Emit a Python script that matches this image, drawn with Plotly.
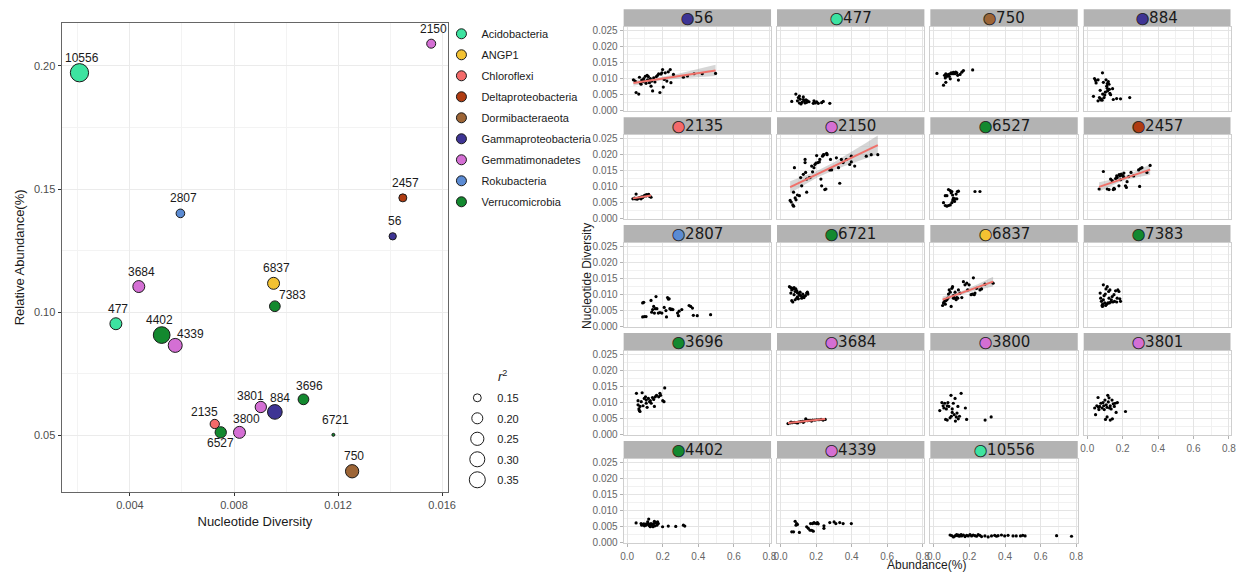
import numpy as np
import plotly.graph_objects as go

# ---------------- main scatter data ----------------
genomes = ["10556", "2150", "2807", "2457", "56", "3684", "6837", "7383", "477", "4402",
           "4339", "3696", "3801", "884", "2135", "6527", "3800", "6721", "750"]
genome_phylum = ["Acidobacteria", "Gemmatimonadetes", "Rokubacteria", "Deltaproteobacteria",
                 "Gammaproteobacteria", "Gemmatimonadetes", "ANGP1", "Verrucomicrobia",
                 "Acidobacteria", "Verrucomicrobia", "Gemmatimonadetes", "Verrucomicrobia",
                 "Gemmatimonadetes", "Gammaproteobacteria", "Chloroflexi", "Verrucomicrobia",
                 "Gemmatimonadetes", "Verrucomicrobia", "Dormibacteraeota"]
nucleotide_diversity = [0.00206, 0.01558, 0.00594, 0.01449, 0.01410, 0.00434, 0.00952, 0.00957,
                        0.00346, 0.00522, 0.00574, 0.01067, 0.00903, 0.00957, 0.00726, 0.00749,
                        0.00821, 0.01182, 0.01254]
relative_abundance = [0.1972, 0.2090, 0.1401, 0.1464, 0.1308, 0.1104, 0.1117, 0.1024, 0.0953,
                      0.0907, 0.0865, 0.0646, 0.0615, 0.0595, 0.0546, 0.0512, 0.0512, 0.0502, 0.0354]
r_squared = [0.41, 0.165, 0.16, 0.151, 0.143, 0.22, 0.22, 0.194, 0.22, 0.354,
             0.27, 0.194, 0.206, 0.29, 0.169, 0.206, 0.22, 0.12, 0.252]

phylum_names = ["Acidobacteria", "ANGP1", "Chloroflexi", "Deltaproteobacteria", "Dormibacteraeota",
                "Gammaproteobacteria", "Gemmatimonadetes", "Rokubacteria", "Verrucomicrobia"]
size_legend_values = [0.15, 0.20, 0.25, 0.30, 0.35]

# ---------------- facet data (abundance %, nucleotide diversity) ----------------
ab_56 = [0.035, 0.045, 0.050, 0.065, 0.069, 0.073, 0.078, 0.082, 0.087, 0.093, 0.097, 0.102, 0.106, 0.112, 0.115,
         0.119, 0.125, 0.130, 0.134, 0.138, 0.143, 0.149, 0.156, 0.164, 0.171, 0.177, 0.184, 0.190, 0.195, 0.199,
         0.203, 0.208, 0.214, 0.223, 0.231, 0.242, 0.246, 0.260, 0.316, 0.339, 0.376, 0.422, 0.497]
nd_56 = [0.0096, 0.0092, 0.0056, 0.0051, 0.0104, 0.0087, 0.0082, 0.0095, 0.0090, 0.0100, 0.0092, 0.0107, 0.0085,
         0.0110, 0.0096, 0.0106, 0.0087, 0.0100, 0.0076, 0.0092, 0.0061, 0.0102, 0.0089, 0.0106, 0.0110, 0.0115,
         0.0056, 0.0114, 0.0118, 0.0128, 0.0073, 0.0097, 0.0118, 0.0092, 0.0121, 0.0128, 0.0087, 0.0113, 0.0104,
         0.0108, 0.0115, 0.0115, 0.0116]

ab_477 = [0.063, 0.086, 0.095, 0.100, 0.106, 0.110, 0.115, 0.121, 0.128, 0.134, 0.138, 0.143, 0.147, 0.151, 0.160,
          0.184, 0.188, 0.195, 0.203, 0.212, 0.231, 0.240, 0.277, 0.106, 0.128]
nd_477 = [0.0028, 0.0051, 0.0030, 0.0040, 0.0023, 0.0035, 0.0020, 0.0025, 0.0042, 0.0030, 0.0023, 0.0033, 0.0025,
          0.0030, 0.0027, 0.0022, 0.0030, 0.0023, 0.0027, 0.0022, 0.0024, 0.0028, 0.0022, 0.0045, 0.0034]

ab_750 = [0.017, 0.060, 0.064, 0.067, 0.073, 0.078, 0.082, 0.086, 0.092, 0.097, 0.101, 0.105, 0.110, 0.116, 0.119,
          0.123, 0.129, 0.134, 0.138, 0.147, 0.157, 0.166, 0.218, 0.054, 0.067, 0.092, 0.110]
nd_750 = [0.0116, 0.0110, 0.0102, 0.0115, 0.0107, 0.0110, 0.0113, 0.0107, 0.0115, 0.0118, 0.0115, 0.0117, 0.0119,
          0.0118, 0.0115, 0.0120, 0.0118, 0.0110, 0.0095, 0.0113, 0.0120, 0.0125, 0.0127, 0.0079, 0.0088, 0.0099,
          0.0115]

ab_884 = [0.035, 0.041, 0.047, 0.050, 0.061, 0.069, 0.073, 0.076, 0.080, 0.084, 0.086, 0.087, 0.091, 0.095, 0.099,
          0.102, 0.106, 0.110, 0.113, 0.113, 0.115, 0.119, 0.123, 0.125, 0.128, 0.132, 0.143, 0.147, 0.166, 0.188,
          0.240, 0.061]
nd_884 = [0.0044, 0.0100, 0.0094, 0.0086, 0.0096, 0.0040, 0.0063, 0.0033, 0.0035, 0.0032, 0.0118, 0.0051, 0.0088,
          0.0040, 0.0048, 0.0057, 0.0096, 0.0076, 0.0084, 0.0069, 0.0061, 0.0090, 0.0082, 0.0066, 0.0053, 0.0049,
          0.0068, 0.0034, 0.0037, 0.0036, 0.0040, 0.0030]

ab_2135 = [0.032, 0.041, 0.050, 0.056, 0.063, 0.069, 0.074, 0.082, 0.087, 0.093, 0.097, 0.102, 0.106, 0.110, 0.115,
           0.121, 0.125, 0.130, 0.134, 0.045, 0.078]
nd_2135 = [0.0061, 0.0063, 0.0076, 0.0060, 0.0063, 0.0064, 0.0066, 0.0067, 0.0065, 0.0069, 0.0071, 0.0073, 0.0070,
           0.0074, 0.0072, 0.0075, 0.0069, 0.0068, 0.0066, 0.0061, 0.0061]

ab_2150 = [0.054, 0.060, 0.069, 0.074, 0.082, 0.078, 0.087, 0.095, 0.106, 0.113, 0.119, 0.128, 0.138, 0.138, 0.141,
           0.147, 0.147, 0.162, 0.166, 0.175, 0.180, 0.188, 0.193, 0.199, 0.203, 0.210, 0.218, 0.221, 0.227, 0.231,
           0.236, 0.240, 0.249, 0.244, 0.255, 0.259, 0.262, 0.277, 0.281, 0.287, 0.314, 0.326, 0.333, 0.342, 0.352,
           0.370, 0.389, 0.398, 0.398, 0.417, 0.482, 0.510, 0.547, 0.073]
nd_2150 = [0.0056, 0.0051, 0.0042, 0.0038, 0.0064, 0.0159, 0.0058, 0.0073, 0.0071, 0.0128, 0.0102, 0.0138, 0.0185,
           0.0175, 0.0144, 0.0082, 0.0123, 0.0128, 0.0128, 0.0164, 0.0146, 0.0159, 0.0169, 0.0173, 0.0197, 0.0175,
           0.0177, 0.0185, 0.0123, 0.0102, 0.0195, 0.0199, 0.0090, 0.0200, 0.0092, 0.0204, 0.0200, 0.0152, 0.0185,
           0.0152, 0.0190, 0.0159, 0.0110, 0.0185, 0.0175, 0.0185, 0.0169, 0.0195, 0.0177, 0.0164, 0.0195, 0.0200,
           0.0200, 0.0082]

ab_6527 = [0.054, 0.064, 0.073, 0.082, 0.092, 0.101, 0.106, 0.110, 0.116, 0.119, 0.129, 0.132, 0.138, 0.125, 0.101,
           0.092, 0.082, 0.073, 0.064, 0.231, 0.259, 0.097, 0.105]
nd_6527 = [0.0049, 0.0040, 0.0038, 0.0040, 0.0042, 0.0049, 0.0057, 0.0063, 0.0053, 0.0061, 0.0061, 0.0084, 0.0085,
           0.0076, 0.0084, 0.0087, 0.0090, 0.0071, 0.0071, 0.0084, 0.0084, 0.0080, 0.0073]

ab_2457 = [0.067, 0.091, 0.113, 0.123, 0.132, 0.141, 0.147, 0.151, 0.154, 0.160, 0.166, 0.169, 0.179, 0.180, 0.184,
           0.188, 0.192, 0.197, 0.203, 0.207, 0.216, 0.221, 0.225, 0.247, 0.262, 0.290, 0.296, 0.300, 0.309, 0.337,
           0.355, 0.207, 0.234]
nd_2457 = [0.0092, 0.0147, 0.0092, 0.0090, 0.0123, 0.0118, 0.0090, 0.0094, 0.0092, 0.0125, 0.0133, 0.0128, 0.0102,
           0.0137, 0.0133, 0.0121, 0.0139, 0.0135, 0.0133, 0.0142, 0.0102, 0.0097, 0.0115, 0.0144, 0.0133, 0.0152,
           0.0100, 0.0156, 0.0159, 0.0144, 0.0166, 0.0128, 0.0131]

ab_2807 = [0.087, 0.093, 0.087, 0.097, 0.106, 0.134, 0.138, 0.149, 0.153, 0.158, 0.162, 0.167, 0.175, 0.184, 0.195,
           0.208, 0.218, 0.221, 0.227, 0.231, 0.236, 0.240, 0.246, 0.251, 0.257, 0.283, 0.288, 0.292, 0.307, 0.348,
           0.357, 0.367, 0.372, 0.394, 0.469, 0.143]
nd_2807 = [0.0073, 0.0075, 0.0029, 0.0030, 0.0030, 0.0081, 0.0044, 0.0062, 0.0041, 0.0055, 0.0093, 0.0055, 0.0041,
           0.0043, 0.0041, 0.0059, 0.0049, 0.0029, 0.0090, 0.0085, 0.0086, 0.0055, 0.0052, 0.0054, 0.0052, 0.0041,
           0.0033, 0.0047, 0.0052, 0.0065, 0.0062, 0.0057, 0.0034, 0.0033, 0.0036, 0.0052]

ab_6721 = [0.050, 0.058, 0.063, 0.069, 0.073, 0.076, 0.082, 0.086, 0.091, 0.095, 0.100, 0.106, 0.110, 0.113, 0.119,
           0.125, 0.128, 0.132, 0.140, 0.147, 0.151, 0.154, 0.063, 0.069, 0.082, 0.091, 0.095, 0.058, 0.076, 0.100]
nd_6721 = [0.0124, 0.0121, 0.0114, 0.0119, 0.0117, 0.0121, 0.0109, 0.0117, 0.0111, 0.0105, 0.0104, 0.0099, 0.0107,
           0.0096, 0.0088, 0.0101, 0.0093, 0.0090, 0.0096, 0.0104, 0.0107, 0.0101, 0.0080, 0.0076, 0.0083, 0.0088,
           0.0092, 0.0104, 0.0099, 0.0086]

ab_6837 = [0.049, 0.054, 0.060, 0.064, 0.073, 0.078, 0.082, 0.086, 0.092, 0.097, 0.101, 0.105, 0.110, 0.116, 0.119,
           0.125, 0.129, 0.134, 0.138, 0.147, 0.157, 0.166, 0.175, 0.185, 0.190, 0.198, 0.209, 0.216, 0.222, 0.227,
           0.231, 0.240, 0.259, 0.268, 0.287, 0.333, 0.067, 0.110]
nd_6837 = [0.0065, 0.0073, 0.0078, 0.0069, 0.0083, 0.0088, 0.0101, 0.0114, 0.0107, 0.0062, 0.0119, 0.0124, 0.0096,
           0.0088, 0.0107, 0.0083, 0.0090, 0.0088, 0.0114, 0.0104, 0.0090, 0.0140, 0.0130, 0.0135, 0.0114, 0.0130,
           0.0099, 0.0101, 0.0152, 0.0099, 0.0104, 0.0119, 0.0114, 0.0117, 0.0132, 0.0135, 0.0080, 0.0088]

ab_7383 = [0.073, 0.076, 0.080, 0.084, 0.087, 0.091, 0.091, 0.095, 0.099, 0.102, 0.106, 0.110, 0.113, 0.117, 0.121,
           0.123, 0.125, 0.128, 0.132, 0.136, 0.141, 0.145, 0.151, 0.154, 0.160, 0.166, 0.169, 0.173, 0.179, 0.184,
           0.188, 0.086, 0.104]
nd_7383 = [0.0104, 0.0088, 0.0078, 0.0065, 0.0069, 0.0130, 0.0083, 0.0096, 0.0073, 0.0101, 0.0117, 0.0069, 0.0124,
           0.0073, 0.0109, 0.0088, 0.0073, 0.0114, 0.0076, 0.0083, 0.0093, 0.0076, 0.0099, 0.0078, 0.0111, 0.0076,
           0.0088, 0.0114, 0.0109, 0.0086, 0.0078, 0.0062, 0.0065]

ab_3696 = [0.052, 0.061, 0.061, 0.066, 0.068, 0.072, 0.079, 0.084, 0.089, 0.096, 0.103, 0.107, 0.112, 0.119, 0.126,
           0.130, 0.135, 0.142, 0.149, 0.153, 0.158, 0.165, 0.177, 0.184, 0.188, 0.200, 0.207, 0.211, 0.072, 0.107]
nd_3696 = [0.0128, 0.0105, 0.0092, 0.0079, 0.0074, 0.0087, 0.0102, 0.0130, 0.0089, 0.0112, 0.0117, 0.0107, 0.0084,
           0.0112, 0.0102, 0.0105, 0.0097, 0.0115, 0.0109, 0.0087, 0.0117, 0.0122, 0.0117, 0.0128, 0.0122, 0.0105,
           0.0102, 0.0145, 0.0071, 0.0097]

ab_3684 = [0.042, 0.054, 0.066, 0.077, 0.089, 0.100, 0.112, 0.123, 0.135, 0.142, 0.151, 0.160, 0.170, 0.181, 0.193,
           0.204, 0.216, 0.228, 0.239, 0.251, 0.059, 0.096, 0.128, 0.174]
nd_3684 = [0.0033, 0.0035, 0.0036, 0.0037, 0.0036, 0.0038, 0.0039, 0.0040, 0.0041, 0.0048, 0.0042, 0.0043, 0.0043,
           0.0044, 0.0044, 0.0045, 0.0045, 0.0046, 0.0044, 0.0046, 0.0038, 0.0035, 0.0037, 0.0041]

ab_3800 = [0.033, 0.045, 0.052, 0.056, 0.061, 0.066, 0.070, 0.075, 0.079, 0.084, 0.091, 0.096, 0.098, 0.103, 0.109,
           0.114, 0.119, 0.121, 0.126, 0.130, 0.135, 0.137, 0.144, 0.153, 0.177, 0.184, 0.288, 0.322, 0.075, 0.103]
nd_3800 = [0.0074, 0.0099, 0.0089, 0.0082, 0.0097, 0.0046, 0.0079, 0.0089, 0.0099, 0.0087, 0.0051, 0.0122, 0.0056,
           0.0079, 0.0097, 0.0061, 0.0112, 0.0041, 0.0054, 0.0066, 0.0087, 0.0048, 0.0056, 0.0128, 0.0082, 0.0046,
           0.0044, 0.0054, 0.0044, 0.0068]

ab_3801 = [0.042, 0.047, 0.054, 0.061, 0.066, 0.070, 0.077, 0.084, 0.089, 0.093, 0.096, 0.100, 0.103, 0.107, 0.112,
           0.116, 0.119, 0.123, 0.126, 0.130, 0.135, 0.140, 0.142, 0.147, 0.153, 0.158, 0.163, 0.170, 0.216, 0.112,
           0.130, 0.064]
nd_3801 = [0.0082, 0.0061, 0.0089, 0.0115, 0.0077, 0.0087, 0.0097, 0.0082, 0.0099, 0.0089, 0.0077, 0.0107, 0.0046,
           0.0092, 0.0084, 0.0122, 0.0101, 0.0114, 0.0082, 0.0089, 0.0079, 0.0107, 0.0048, 0.0095, 0.0087, 0.0097,
           0.0068, 0.0099, 0.0071, 0.0054, 0.0044, 0.0084]

ab_4402 = [0.050, 0.078, 0.082, 0.087, 0.093, 0.097, 0.102, 0.106, 0.115, 0.119, 0.121, 0.125, 0.128, 0.130, 0.134,
           0.138, 0.143, 0.149, 0.153, 0.156, 0.162, 0.167, 0.171, 0.175, 0.199, 0.231, 0.273, 0.316, 0.324, 0.112,
           0.145]
nd_4402 = [0.0060, 0.0058, 0.0053, 0.0055, 0.0057, 0.0051, 0.0056, 0.0053, 0.0063, 0.0058, 0.0072, 0.0051, 0.0055,
           0.0048, 0.0058, 0.0053, 0.0055, 0.0058, 0.0065, 0.0051, 0.0061, 0.0053, 0.0063, 0.0058, 0.0048, 0.0050,
           0.0049, 0.0053, 0.0050, 0.0056, 0.0048]

ab_4339 = [0.063, 0.073, 0.082, 0.091, 0.095, 0.106, 0.147, 0.156, 0.166, 0.169, 0.175, 0.180, 0.188, 0.193, 0.203,
           0.207, 0.212, 0.244, 0.244, 0.277, 0.301, 0.311, 0.333, 0.352, 0.398, 0.087, 0.184]
nd_4339 = [0.0032, 0.0032, 0.0065, 0.0058, 0.0055, 0.0030, 0.0048, 0.0043, 0.0037, 0.0058, 0.0037, 0.0058, 0.0061,
           0.0059, 0.0058, 0.0061, 0.0057, 0.0051, 0.0043, 0.0061, 0.0063, 0.0058, 0.0061, 0.0058, 0.0058, 0.0053,
           0.0034]

ab_10556 = [0.091, 0.110, 0.119, 0.125, 0.128, 0.134, 0.138, 0.143, 0.147, 0.156, 0.166, 0.175, 0.184, 0.193, 0.203,
            0.212, 0.221, 0.231, 0.240, 0.249, 0.259, 0.268, 0.287, 0.305, 0.324, 0.342, 0.352, 0.361, 0.380, 0.398,
            0.417, 0.445, 0.463, 0.487, 0.500, 0.513, 0.690, 0.774, 0.100, 0.153]
nd_10556 = [0.0022, 0.0016, 0.0019, 0.0021, 0.0023, 0.0020, 0.0022, 0.0018, 0.0021, 0.0019, 0.0022, 0.0017, 0.0021,
            0.0019, 0.0023, 0.0019, 0.0022, 0.0020, 0.0018, 0.0023, 0.0021, 0.0017, 0.0019, 0.0016, 0.0019, 0.0021,
            0.0018, 0.0020, 0.0022, 0.0019, 0.0021, 0.0019, 0.0019, 0.0019, 0.0021, 0.0019, 0.0020, 0.0018, 0.0020,
            0.0023]

facet_order = ["56", "477", "750", "884", "2135", "2150", "6527", "2457", "2807", "6721",
               "6837", "7383", "3696", "3684", "3800", "3801", "4402", "4339", "10556"]
fitted_facets = ["56", "2135", "2150", "2457", "6837", "3684"]

facet_data = {
    "56": (ab_56, nd_56), "477": (ab_477, nd_477), "750": (ab_750, nd_750), "884": (ab_884, nd_884),
    "2135": (ab_2135, nd_2135), "2150": (ab_2150, nd_2150), "6527": (ab_6527, nd_6527),
    "2457": (ab_2457, nd_2457), "2807": (ab_2807, nd_2807), "6721": (ab_6721, nd_6721),
    "6837": (ab_6837, nd_6837), "7383": (ab_7383, nd_7383), "3696": (ab_3696, nd_3696),
    "3684": (ab_3684, nd_3684), "3800": (ab_3800, nd_3800), "3801": (ab_3801, nd_3801),
    "4402": (ab_4402, nd_4402), "4339": (ab_4339, nd_4339), "10556": (ab_10556, nd_10556),
}

# ---------------- styles ----------------
W, H = 1238, 575
phylum_colors = {
    "Acidobacteria": "#3DE3A0", "ANGP1": "#F3C232", "Chloroflexi": "#F46A6A",
    "Deltaproteobacteria": "#B03C12", "Dormibacteraeota": "#9D6536", "Gammaproteobacteria": "#3E3494",
    "Gemmatimonadetes": "#D46FD4", "Rokubacteria": "#5B8BD3", "Verrucomicrobia": "#13892F",
}
# label offsets (pixels) relative to the point, like ggrepel placement
label_shift = {
    "10556": (3, 15), "2150": (2, 15), "2807": (3, 15), "2457": (3, 15), "56": (2, 15),
    "3684": (3, 15), "6837": (3, 15), "7383": (18, 11), "477": (2, 15), "4402": (-2, 15),
    "4339": (15, 11), "3696": (6, 13), "3801": (-10, 11), "884": (5, 14), "2135": (-10, 12),
    "6527": (0, -11), "3800": (7, 13), "6721": (2, 15), "750": (2, 15),
}
MAIN_FONT = "Liberation Sans, Arial, sans-serif"


def size_px(v):
    return 3 + 15 * np.sqrt(np.clip((np.asarray(v, dtype=float) - 0.12) / 0.28, 0, None))


def t_quant(df):
    z = 1.959964
    return z + (z ** 3 + z) / (4 * df) + (5 * z ** 5 + 16 * z ** 3 + 3 * z) / (96 * df ** 2)


def lm_band(x, y):
    x = np.asarray(x, float)
    y = np.asarray(y, float)
    n = len(x)
    b, a = np.polyfit(x, y, 1)
    xs = np.linspace(x.min(), x.max(), 80)
    yhat = a + b * xs
    s = np.sqrt(np.sum((y - (a + b * x)) ** 2) / (n - 2))
    se = s * np.sqrt(1 / n + (xs - x.mean()) ** 2 / np.sum((x - x.mean()) ** 2))
    t = t_quant(n - 2)
    return xs, yhat, yhat - t * se, yhat + t * se


fig = go.Figure()

# ---------------- main scatter ----------------
for ph in phylum_names:
    idx = [i for i, p in enumerate(genome_phylum) if p == ph]
    fig.add_trace(go.Scatter(
        x=[nucleotide_diversity[i] for i in idx], y=[relative_abundance[i] for i in idx],
        mode="markers", xaxis="x", yaxis="y", showlegend=False, hoverinfo="skip",
        marker=dict(size=size_px([r_squared[i] for i in idx]), color=phylum_colors[ph],
                    line=dict(color="#1A1A1A", width=1), opacity=1),
    ))
    # legend entry
    fig.add_trace(go.Scatter(
        x=[None], y=[None], mode="markers", xaxis="x", yaxis="y", name=ph, legend="legend",
        legendgroup=ph, marker=dict(size=10, color=phylum_colors[ph], line=dict(color="#1A1A1A", width=1)),
    ))

for v in size_legend_values:
    fig.add_trace(go.Scatter(
        x=[None], y=[None], mode="markers", xaxis="x", yaxis="y", name=f"{v:.2f}", legend="legend2",
        legendgroup=f"r{v}", marker=dict(size=float(size_px(v)), color="white",
                                        line=dict(color="#1A1A1A", width=1)),
    ))

annotations = []
for g, xv, yv in zip(genomes, nucleotide_diversity, relative_abundance):
    dx, dy = label_shift[g]
    annotations.append(dict(x=xv, y=yv, xref="x", yref="y", text=g, showarrow=False,
                            xshift=dx, yshift=dy, font=dict(size=12, color="#1A1A1A", family=MAIN_FONT)))

# size legend title (r^2)
annotations.append(dict(x=497 / W, y=1 - 379 / H, xref="paper", yref="paper", text="<i>r</i><sup>2</sup>",
                        showarrow=False, xanchor="left", yanchor="middle",
                        font=dict(size=13, color="#1A1A1A", family=MAIN_FONT)))

layout = dict(
    width=W, height=H, margin=dict(l=0, r=0, t=0, b=0),
    paper_bgcolor="white", plot_bgcolor="white",
    font=dict(family=MAIN_FONT, color="#1A1A1A"),
    xaxis=dict(domain=[59 / W, 449 / W], range=[0.00137, 0.01624], anchor="y",
               tickvals=[0.004, 0.008, 0.012, 0.016], ticktext=["0.004", "0.008", "0.012", "0.016"],
               showgrid=True, gridcolor="#EBEBEB", gridwidth=1,
               minor=dict(tickvals=[0.002, 0.006, 0.010, 0.014], showgrid=True, gridcolor="#F3F3F3", ticks=""),
               showline=True, mirror=True, linecolor="#666666", linewidth=1,
               ticks="outside", ticklen=3, tickcolor="#333333",
               tickfont=dict(size=11, color="#4D4D4D"), zeroline=False,
               title=dict(text="Nucleotide Diversity", font=dict(size=13, color="#1A1A1A"), standoff=6)),
    yaxis=dict(domain=[1 - 496 / H, 1 - 21 / H], range=[0.027, 0.2175], anchor="x",
               tickvals=[0.05, 0.10, 0.15, 0.20], ticktext=["0.05", "0.10", "0.15", "0.20"],
               showgrid=True, gridcolor="#EBEBEB", gridwidth=1,
               minor=dict(tickvals=[0.075, 0.125, 0.175], showgrid=True, gridcolor="#F3F3F3", ticks=""),
               showline=True, mirror=True, linecolor="#666666", linewidth=1,
               ticks="outside", ticklen=3, tickcolor="#333333",
               tickfont=dict(size=11, color="#4D4D4D"), zeroline=False,
               title=dict(text="Relative Abundance(%)", font=dict(size=13, color="#1A1A1A"), standoff=6)),
    legend=dict(x=442 / W, y=1 - 17.5 / H, xanchor="left", yanchor="top", bgcolor="rgba(0,0,0,0)",
                font=dict(size=11, color="#1A1A1A"), traceorder="grouped", tracegroupgap=2,
                itemsizing="trace"),
    legend2=dict(x=458 / W, y=1 - 386 / H, xanchor="left", yanchor="top", bgcolor="rgba(0,0,0,0)",
                 font=dict(size=11, color="#1A1A1A"), traceorder="grouped", tracegroupgap=1.5,
                 itemsizing="trace"),
)

shapes = []
# ---------------- facet grid ----------------
for i, fid in enumerate(facet_order):
    r, c = divmod(i, 4)
    k = i + 2
    left = 625.7 + 154.6 * c
    right = min(left + 148.6, W - 0.5)
    strip_top = 7.3 + 109.25 * r
    ptop = strip_top + 18
    pbot = strip_top + 103
    show_x = (r == 4) or (c == 3 and r == 3)
    show_y = c == 0
    layout[f"xaxis{k}"] = dict(
        domain=[left / W, right / W], range=[-0.020, 0.809], anchor=f"y{k}",
        tickvals=[0.0, 0.2, 0.4, 0.6, 0.8], ticktext=["0.0", "0.2", "0.4", "0.6", "0.8"],
        showticklabels=show_x, showgrid=True, gridcolor="#E4E4E4", gridwidth=1,
        minor=dict(tickvals=[0.1, 0.3, 0.5, 0.7], showgrid=True, gridcolor="#F1F1F1", ticks=""),
        showline=True, mirror=True, linecolor="#CFCFCF", linewidth=1,
        ticks="outside" if show_x else "", ticklen=3, tickcolor="#B3B3B3", ticklabelstandoff=1,
        tickfont=dict(size=10, color="#666666"), zeroline=False)
    layout[f"yaxis{k}"] = dict(
        domain=[1 - pbot / H, 1 - ptop / H], range=[-0.0002, 0.0262], anchor=f"x{k}",
        tickvals=[0.0, 0.005, 0.010, 0.015, 0.020, 0.025],
        ticktext=["0.000", "0.005", "0.010", "0.015", "0.020", "0.025"],
        showticklabels=show_y, showgrid=True, gridcolor="#E4E4E4", gridwidth=1,
        minor=dict(tickvals=[0.0025, 0.0075, 0.0125, 0.0175, 0.0225], showgrid=True,
                   gridcolor="#F1F1F1", ticks=""),
        showline=True, mirror=True, linecolor="#CFCFCF", linewidth=1,
        ticks="outside" if show_y else "", ticklen=3, tickcolor="#B3B3B3",
        tickfont=dict(size=10, color="#666666"), zeroline=False)

    xs, ys = facet_data[fid]
    if fid in fitted_facets:
        fx, fy, lo, hi = lm_band(xs, ys)
        fig.add_trace(go.Scatter(x=fx, y=lo, xaxis=f"x{k}", yaxis=f"y{k}", mode="lines",
                                 line=dict(width=0, color="rgba(0,0,0,0)"), showlegend=False,
                                 hoverinfo="skip"))
        fig.add_trace(go.Scatter(x=fx, y=hi, xaxis=f"x{k}", yaxis=f"y{k}", mode="lines", fill="tonexty",
                                 fillcolor="rgba(153,153,153,0.4)", line=dict(width=0, color="rgba(0,0,0,0)"),
                                 showlegend=False, hoverinfo="skip"))
    fig.add_trace(go.Scatter(x=xs, y=ys, xaxis=f"x{k}", yaxis=f"y{k}", mode="markers",
                             marker=dict(size=3.2, color="black"), showlegend=False, hoverinfo="skip"))
    if fid in fitted_facets:
        fig.add_trace(go.Scatter(x=fx, y=fy, xaxis=f"x{k}", yaxis=f"y{k}", mode="lines",
                                 line=dict(width=2, color="#F0716A"), showlegend=False, hoverinfo="skip"))

    shapes.append(dict(type="rect", xref="paper", yref="paper", x0=left / W, x1=right / W,
                       y0=1 - ptop / H, y1=1 - strip_top / H, fillcolor="#B3B3B3", line=dict(width=0),
                       layer="below"))
    col = phylum_colors[genome_phylum[genomes.index(fid)]]
    annotations.append(dict(x=(left + right) / 2 / W, y=1 - (strip_top + 9) / H, xref="paper", yref="paper",
                            text=(f'<span style="color:{col};stroke:#1A1A1A;stroke-width:0.8px">●</span>'
                                  f'{fid}'),
                            showarrow=False,
                            font=dict(family="DejaVu Sans", size=15, color="#1A1A1A"),
                            xanchor="center", yanchor="middle"))

annotations.append(dict(x=588 / W, y=1 - 277 / H, xref="paper", yref="paper", text="Nucleotide Diversity",
                        textangle=-90, showarrow=False, font=dict(size=12, color="#1A1A1A", family=MAIN_FONT),
                        xanchor="center", yanchor="middle"))
annotations.append(dict(x=931 / W, y=1 - 570 / H, xref="paper", yref="paper", text="Abundance(%)",
                        showarrow=False, font=dict(size=12, color="#1A1A1A", family=MAIN_FONT),
                        xanchor="center", yanchor="middle"))

layout["annotations"] = annotations
layout["shapes"] = shapes
fig.update_layout(**layout)
fig.write_html("out.html")
